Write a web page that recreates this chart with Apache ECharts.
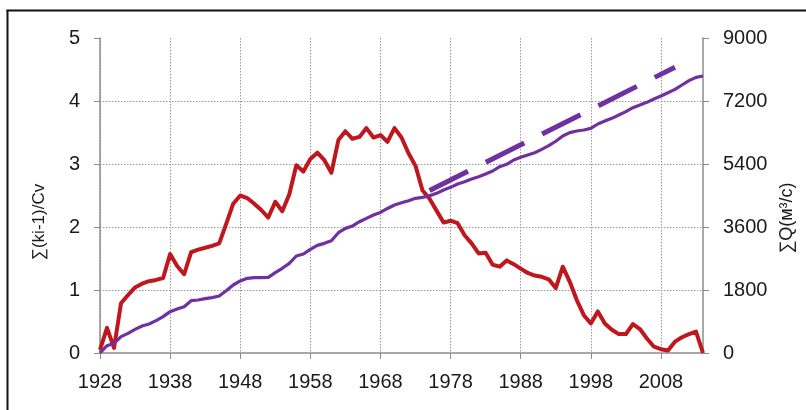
<!DOCTYPE html>
<html>
<head>
<meta charset="utf-8">
<script src="https://cdn.jsdelivr.net/npm/echarts@6/dist/echarts.min.js"></script>
<style>
html,body{margin:0;padding:0;background:#fff;}
#c{width:806px;height:410px;}
</style>
</head>
<body>
<div id="c"></div>
<script>
const years = [];
for (let y = 1928; y <= 2014; y++) years.push(String(y));

const leftTicks = ['0','1','2','3','4','5'];
const rightTicks = ['0','1800','3600','5400','7200','9000'];

// ∑(ki-1)/Cv  (left axis)
const sumK = [
  0.05, 0.40, 0.08, 0.79, 0.92, 1.04, 1.10, 1.14, 1.16, 1.19,
  1.57, 1.38, 1.25, 1.60, 1.64, 1.67, 1.70, 1.74, 2.05, 2.37,
  2.50, 2.46, 2.37, 2.27, 2.15, 2.40, 2.25, 2.52, 2.98, 2.88,
  3.08, 3.18, 3.06, 2.86, 3.38, 3.52, 3.40, 3.43, 3.57, 3.42,
  3.46, 3.35, 3.57, 3.42, 3.17, 2.97, 2.58, 2.45, 2.26, 2.07,
  2.10, 2.06, 1.87, 1.74, 1.58, 1.59, 1.40, 1.37, 1.47, 1.41,
  1.34, 1.27, 1.23, 1.21, 1.17, 1.03, 1.37, 1.13, 0.84, 0.60,
  0.47, 0.66, 0.47, 0.37, 0.30, 0.30, 0.46, 0.38, 0.23, 0.10,
  0.06, 0.04, 0.18, 0.25, 0.30, 0.34, 0.00
];

// ∑Q (m3/s)  (right axis)
const sumQ = [
  0, 210, 276, 467, 562, 676, 771, 829, 924, 1038,
  1181, 1257, 1324, 1495, 1514, 1552, 1581, 1629, 1781, 1943,
  2060, 2134, 2153, 2153, 2160, 2295, 2420, 2562, 2771, 2829,
  2962, 3076, 3133, 3209, 3437, 3561, 3628, 3752, 3847, 3943,
  4015, 4130, 4229, 4295, 4352, 4419, 4448, 4495, 4562, 4657,
  4733, 4828, 4895, 4971, 5038, 5114, 5200, 5324, 5390, 5514,
  5590, 5657, 5723, 5819, 5925, 6050, 6200, 6295, 6343, 6371,
  6419, 6543, 6628, 6705, 6800, 6895, 7009, 7085, 7162, 7257,
  7343, 7437, 7533, 7657, 7781, 7876, 7914
];

// linear trend (dashed)
const trendYears = ['1975', '2010'];
const trendValues = [4640, 8166];

const chart = echarts.init(document.getElementById('c'));
const font = 'Liberation Sans, Arial, sans-serif';
const txt = '#1a1a1a';
const axisGray = '#8c8c8c';
const gridStyle = {color: '#9a9a9a', width: 1, type: [1.5, 1.5]};

chart.setOption({
  animation: false,
  backgroundColor: '#ffffff',
  grid: {left: 100, right: 103, top: 38, bottom: 57, containLabel: false},
  xAxis: {
    type: 'category',
    data: years,
    boundaryGap: false,
    axisLine: {lineStyle: {color: axisGray, width: 1.5}},
    axisTick: {show: true, interval: 9, length: 6, lineStyle: {color: axisGray, width: 1}},
    axisLabel: {interval: 9, color: txt, fontSize: 20, fontFamily: font, margin: 19},
    splitLine: {show: true, interval: 9, lineStyle: gridStyle}
  },
  yAxis: [
    {
      type: 'value', min: 0, max: 5, interval: 1, position: 'left',
      axisLine: {show: true, lineStyle: {color: axisGray, width: 1.5}},
      axisTick: {show: true, length: 6, lineStyle: {color: axisGray}},
      axisLabel: {color: txt, fontSize: 20, fontFamily: font, margin: 20,
        formatter: v => leftTicks[Math.round(v)]},
      splitLine: {show: true, showMaxLine: false, showMinLine: false, lineStyle: gridStyle}
    },
    {
      type: 'value', min: 0, max: 9000, interval: 1800, position: 'right',
      axisLine: {show: true, lineStyle: {color: axisGray, width: 1.5}},
      axisTick: {show: true, length: 6, lineStyle: {color: axisGray}},
      axisLabel: {color: txt, fontSize: 20, fontFamily: font, margin: 20,
        formatter: v => rightTicks[Math.round(v / 1800)]},
      splitLine: {show: false}
    }
  ],
  series: [
    {
      type: 'line', yAxisIndex: 0, data: sumK, showSymbol: false, symbol: 'none',
      lineStyle: {color: '#c0161e', width: 4, join: 'round'}, z: 3
    },
    {
      type: 'line', yAxisIndex: 1, data: sumQ, showSymbol: false, symbol: 'none',
      lineStyle: {color: '#7030a0', width: 3.2, join: 'round'}, z: 4
    },
    {
      type: 'line', yAxisIndex: 1,
      data: trendYears.map((y, i) => [y, trendValues[i]]),
      showSymbol: false, symbol: 'none',
      lineStyle: {color: '#7030a0', width: 5, type: [43, 20], cap: 'butt'}, z: 5
    }
  ],
  graphic: [
    {type: 'line', shape: {x1: 7.5, y1: 10, x2: 7.5, y2: 412}, style: {stroke: '#111', lineWidth: 2}},
    {type: 'line', shape: {x1: 6.5, y1: 10.5, x2: 808, y2: 10.5}, style: {stroke: '#111', lineWidth: 2}},
    {type: 'text', x: 39, y: 222, rotation: Math.PI / 2,
      style: {text: '∑(ki-1)/Cv', fill: txt, font: '17px ' + font, textAlign: 'center', textVerticalAlign: 'middle'}},
    {type: 'text', x: 787, y: 218, rotation: Math.PI / 2,
      style: {text: '∑Q(м³/с)', fill: txt, font: '18px ' + font, textAlign: 'center', textVerticalAlign: 'middle'}}
  ]
});
</script>
</body>
</html>
